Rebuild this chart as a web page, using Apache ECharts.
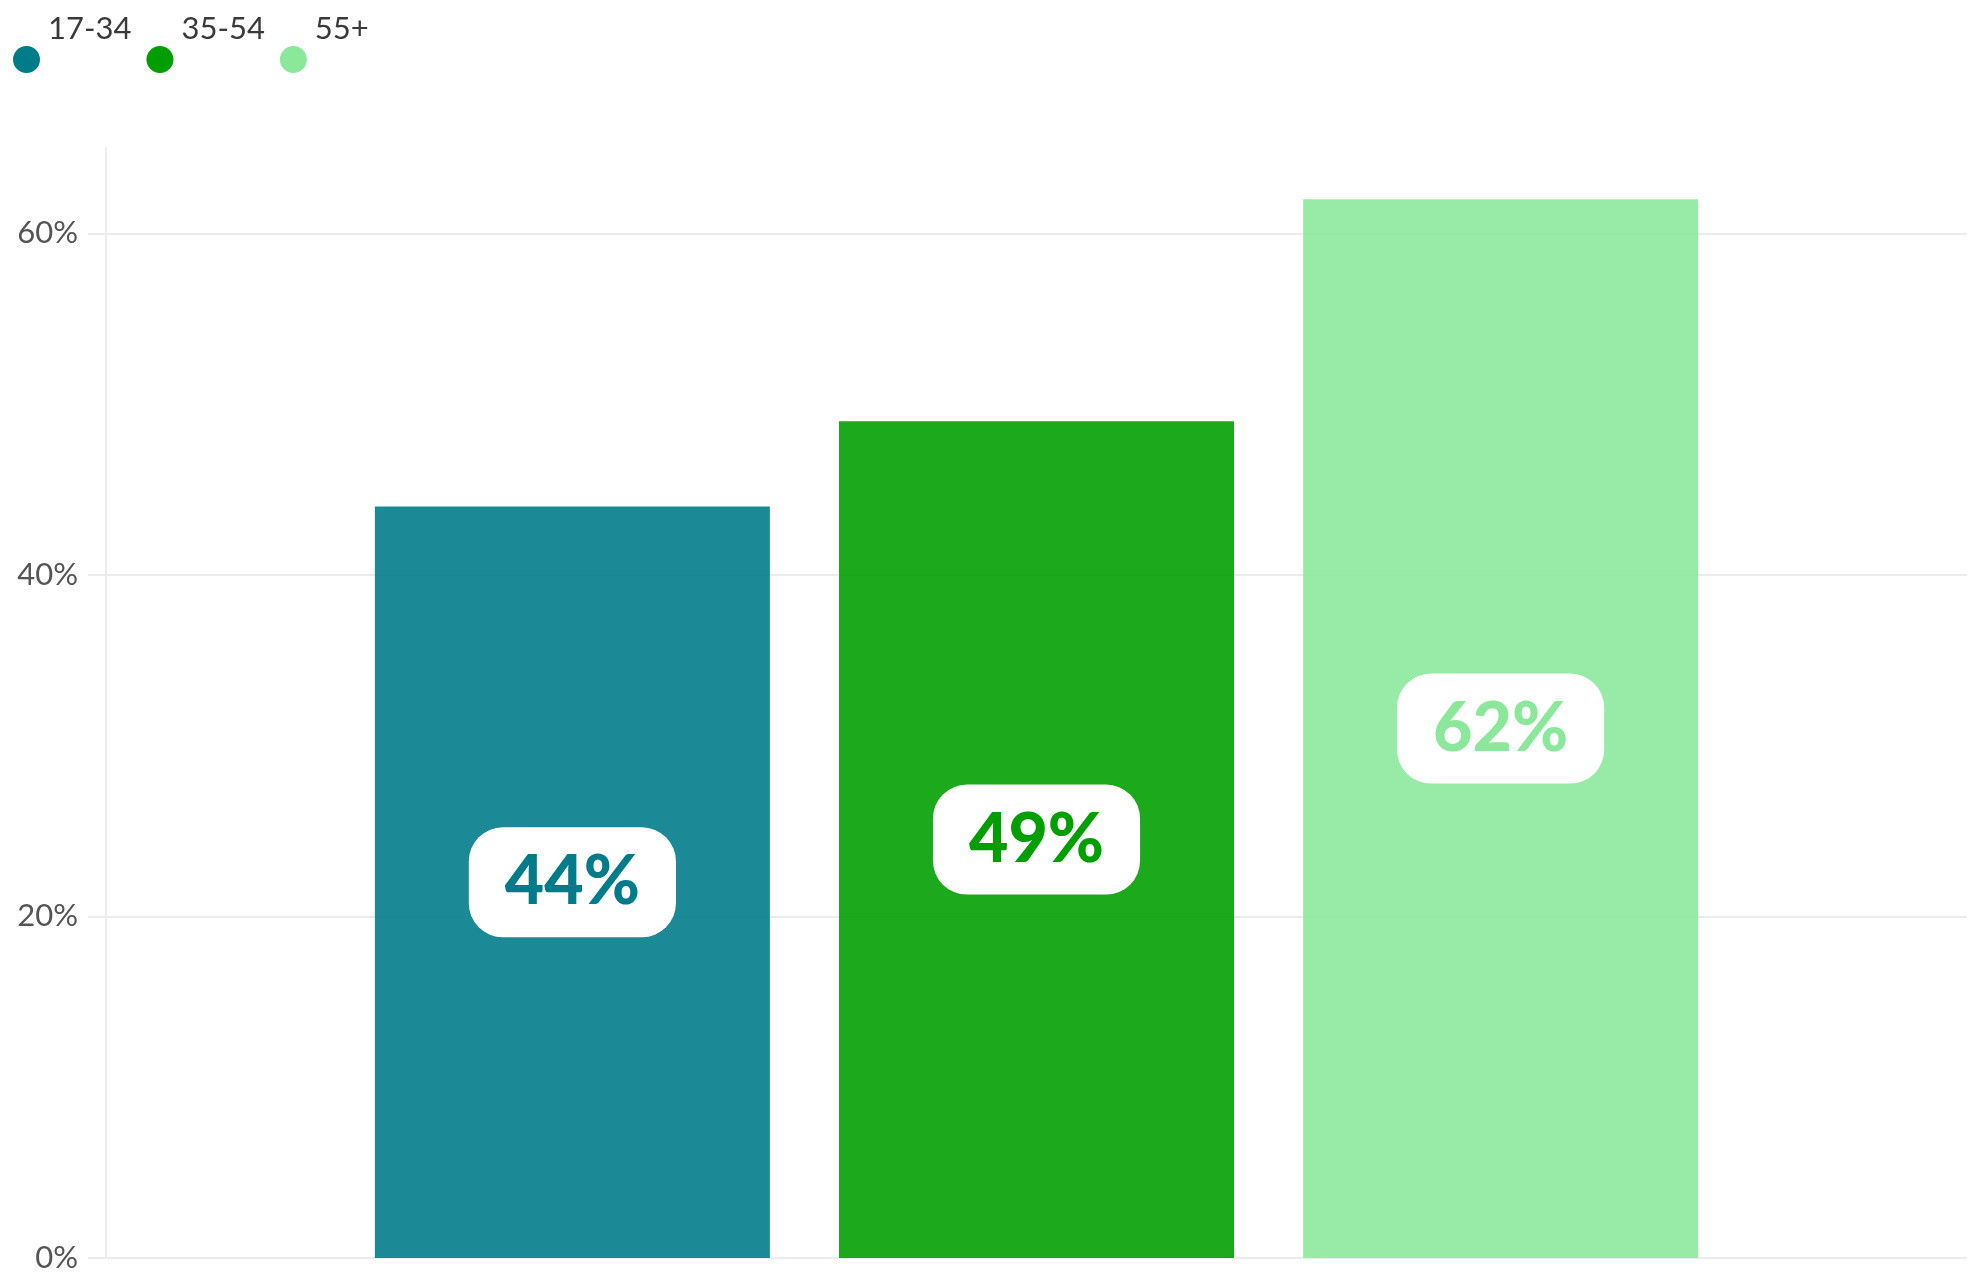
<!DOCTYPE html>
<html>
<head>
<meta charset="utf-8">
<title>Age groups</title>
<script src="https://cdn.jsdelivr.net/npm/echarts@6/dist/echarts.min.js"></script>
<style>
  html, body { margin: 0; padding: 0; background: #ffffff; }
  #chart { width: 1972px; height: 1277px; }
</style>
</head>
<body>
<div id="chart"></div>
<script>
// Share of respondents per age group (percent)
const categories = ['Total'];
const groupNames = ['17-34', '35-54', '55+'];
const groupValues = [44, 49, 62];
const groupColors = ['#007b8a', '#009e00', '#8be89b'];
const yTicks = [0, 20, 40, 60];

const FONT = 'Lato, "Noto Sans", sans-serif';
const BAR_ALPHA = 0.89;

function withAlpha(hex, a) {
  const n = parseInt(hex.slice(1), 16);
  return 'rgba(' + ((n >> 16) & 255) + ',' + ((n >> 8) & 255) + ',' + (n & 255) + ',' + a + ')';
}

const series = groupNames.map((name, i) => ({
  name: name,
  type: 'bar',
  data: [groupValues[i]],
  barWidth: 395,
  barGap: '17.5%',
  itemStyle: { color: withAlpha(groupColors[i], BAR_ALPHA) },
  label: {
    show: true,
    position: 'inside',
    formatter: '{c}%',
    fontFamily: FONT,
    fontWeight: 900,
    fontSize: 68,
    color: groupColors[i],
    backgroundColor: '#ffffff',
    borderRadius: 34,
    padding: [22, 36, 20, 36]
  }
}));

const chart = echarts.init(document.getElementById('chart'), null, { renderer: 'canvas' });
chart.setOption({
  animation: false,
  backgroundColor: '#ffffff',
  textStyle: { fontFamily: FONT },
  legend: {
    left: 8,
    top: 8,
    icon: 'circle',
    itemWidth: 27,
    itemHeight: 28,
    itemGap: 15,
    data: groupNames.map((name, i) => ({ name: name, itemStyle: { color: groupColors[i] } })),
    formatter: name => '{t|' + name + '}',
    textStyle: {
      fontFamily: FONT,
      fontSize: 31,
      color: '#3a3a3a',
      rich: {
        t: { fontFamily: FONT, fontSize: 31, color: '#3a3a3a', padding: [0, 0, 62, 3] }
      }
    }
  },
  grid: { left: 106, right: 5, top: 148, bottom: 19, containLabel: false },
  xAxis: {
    type: 'category',
    data: categories,
    axisLine: { show: false },
    axisTick: { show: false },
    axisLabel: { show: false },
    splitLine: { show: false }
  },
  yAxis: {
    type: 'value',
    min: 0,
    max: 65,
    interval: 20,
    axisLine: { show: true, lineStyle: { color: '#ececec', width: 2 } },
    axisTick: { show: true, length: 18, customValues: yTicks, lineStyle: { color: '#ececec', width: 2 } },
    axisLabel: {
      customValues: yTicks,
      formatter: '{value}%',
      margin: 28,
      fontFamily: FONT,
      fontSize: 31,
      color: '#555555'
    },
    splitLine: { show: true, lineStyle: { color: '#ececec', width: 2 } }
  },
  series: series
});
</script>
</body>
</html>
